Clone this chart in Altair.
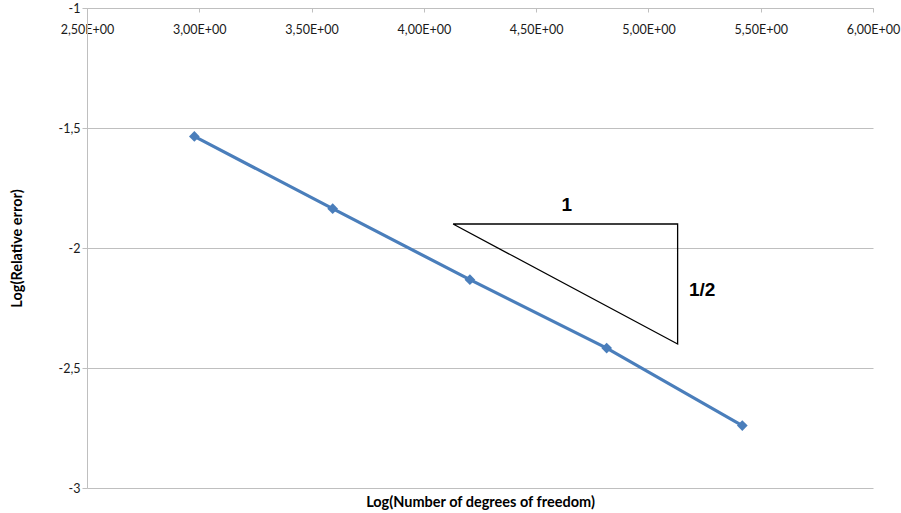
import altair as alt
import pandas as pd

# Convergence data: log of degrees of freedom vs log of relative error
log_dof = [2.978, 3.594, 4.205, 4.814, 5.418]
log_err = [-1.535, -1.836, -2.132, -2.417, -2.740]

# Slope reference triangle (run 1, rise 1/2)
tri_x = [4.13, 5.13, 5.13, 4.13]
tri_y = [-1.90, -1.90, -2.40, -1.90]

slope_text = ["1", "1/2"]
slope_x = [4.636, 5.239]
slope_y = [-1.82, -2.174]

x_ticks = [2.5, 3.0, 3.5, 4.0, 4.5, 5.0, 5.5, 6.0]
y_ticks = [-3, -2.5, -2, -1.5, -1]

W, H = 786, 480
GRID = "#bfbfbf"
LABEL_FONT = "Lato"

series = pd.DataFrame({"x": log_dof, "y": log_err})
tri = pd.DataFrame({"x": tri_x, "y": tri_y, "i": list(range(len(tri_x)))})
labels = pd.DataFrame({"x": slope_x, "y": slope_y, "t": slope_text})

x_scale = alt.Scale(domain=[2.5, 6.0], nice=False, zero=False)
y_scale = alt.Scale(domain=[-3.0, -1.0], nice=False, zero=False)

x_axis = alt.Axis(
    orient="bottom",
    offset=-H,
    values=x_ticks,
    labelExpr="replace(format(datum.value, '.2f'), '.', ',') + 'E+00'",
    grid=False,
    domainColor=GRID,
    tickColor=GRID,
    tickSize=4,
    labelPadding=11,
    labelFont=LABEL_FONT,
    labelFontSize=12.5,
    labelColor="#1a1a1a",
    labelFlush=False,
    labelOverlap=False,
    title="Log(Number of degrees of freedom)",
    titleFont=LABEL_FONT,
    titleFontSize=14.5,
    titleFontWeight="bold",
    titleColor="#000000",
    titleX=W / 2,
    titleY=494,
    titleAlign="center",
    titleBaseline="middle",
)

y_axis = alt.Axis(
    values=y_ticks,
    labelExpr="replace(toString(datum.value), '.', ',')",
    grid=True,
    gridColor=GRID,
    gridWidth=1,
    domainColor=GRID,
    tickColor=GRID,
    tickSize=5,
    labelPadding=2,
    labelFont=LABEL_FONT,
    labelFontSize=12.5,
    labelColor="#1a1a1a",
    title="Log(Relative error)",
    titleFont=LABEL_FONT,
    titleFontSize=14.5,
    titleFontWeight="bold",
    titleColor="#000000",
    titleAngle=270,
    titleX=-70,
    titleY=H / 2,
    titleAlign="center",
    titleBaseline="middle",
)

line = alt.Chart(series).mark_line(
    color="#4a7ebb",
    strokeWidth=3.2,
    point=alt.OverlayMarkDef(shape="diamond", size=115, filled=True, color="#4a7ebb"),
).encode(
    x=alt.X("x:Q", scale=x_scale, axis=x_axis),
    y=alt.Y("y:Q", scale=y_scale, axis=y_axis),
)

triangle = alt.Chart(tri).mark_line(color="#000000", strokeWidth=1.3).encode(
    x="x:Q",
    y="y:Q",
    order="i:Q",
)

slope_labels = alt.Chart(labels).mark_text(
    font="Liberation Sans", fontSize=19, fontWeight="bold", color="#000000"
).encode(
    x="x:Q",
    y="y:Q",
    text="t:N",
)

chart = alt.layer(line, triangle, slope_labels).properties(
    width=W,
    height=H,
    padding={"left": 87, "top": 8, "right": 901 - 87 - W, "bottom": 513 - 8 - H},
    autosize=alt.AutoSizeParams(type="none"),
    background="white",
).configure_view(stroke=None)

chart.save("out.html", embed_options={"renderer": "svg", "actions": False})
